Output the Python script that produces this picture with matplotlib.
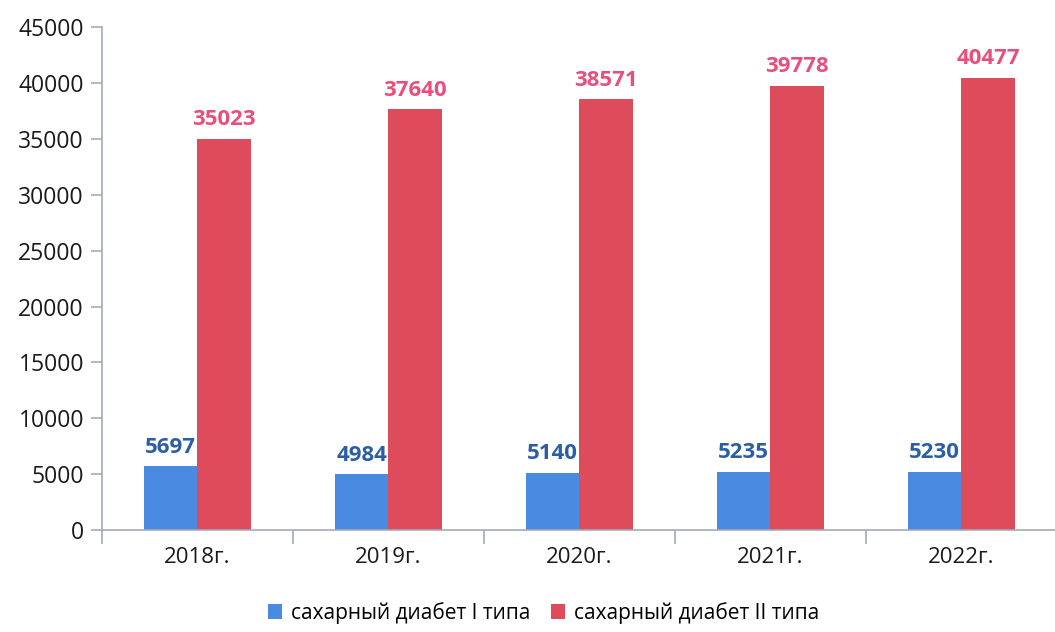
import matplotlib.pyplot as plt
import numpy as np

years = ["2018г.", "2019г.", "2020г.", "2021г.", "2022г."]
type1 = [5697, 4984, 5140, 5235, 5230]
type2 = [35023, 37640, 38571, 39778, 40477]
type1_name = "сахарный диабет I типа"
type2_name = "сахарный диабет II типа"

plt.rcParams['font.family'] = ['Open Sans', 'DejaVu Sans']

fig = plt.figure(figsize=(10.55, 6.32), dpi=100)
ax = fig.add_axes([0.0967, 0.1614, 0.905, 0.7956])

x = np.arange(len(years))
w = 0.28
ax.bar(x - w / 2, type1, w, color="#4a8ae0", label=type1_name)
ax.bar(x + w / 2, type2, w, color="#de4b5b", label=type2_name)

# подписи значений
for xi, v in zip(x, type1):
    ax.text(xi - w / 2, v + 750, str(v), ha="center", va="bottom",
            fontsize=16, fontweight="bold", color="#2c5ea6")
for xi, v in zip(x, type2):
    ax.text(xi + w / 2, v + 750, str(v), ha="center", va="bottom",
            fontsize=16, fontweight="bold", color="#e8507c")

ax.set_xlim(-0.5, len(years) - 0.5)
ax.set_ylim(0, 45000)
ax.set_yticks(range(0, 45001, 5000))
ax.set_xticks(x)
ax.set_xticklabels(years)
ax.set_xticks(np.arange(-0.5, len(years)), minor=True)

for s in ["top", "right"]:
    ax.spines[s].set_visible(False)
for s in ["left", "bottom"]:
    ax.spines[s].set_color("#a3abb8")
    ax.spines[s].set_linewidth(1.2)

ax.tick_params(axis="y", labelsize=16.5, colors="#a3abb8", labelcolor="#1a1a1a",
               length=8, width=1.2, pad=5)
ax.tick_params(axis="x", which="major", length=0, labelsize=16,
               labelcolor="#1a1a1a", pad=12)
ax.tick_params(axis="x", which="minor", length=10, width=1.2, colors="#a3abb8")

handles, labels = ax.get_legend_handles_labels()
fig.legend(handles, labels, loc="center", bbox_to_anchor=(0.515, 0.03),
           ncol=2, frameon=False, fontsize=15, handlelength=0.7,
           handleheight=0.7, handletextpad=0.4, columnspacing=1.0,
           borderpad=0.1)

fig.savefig("out.png", dpi=100)
